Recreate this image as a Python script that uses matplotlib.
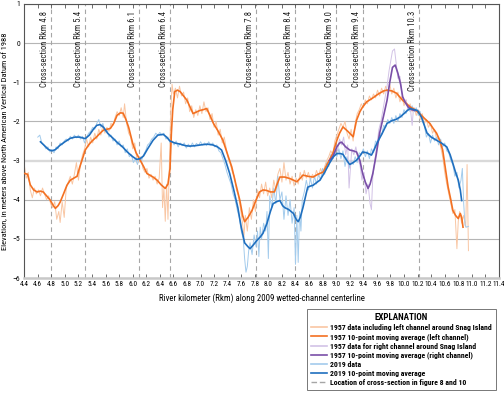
import matplotlib
matplotlib.use("Agg")
import matplotlib.pyplot as plt
from matplotlib import font_manager
from matplotlib.lines import Line2D

# ---------------- data ----------------
o57_avg_x = [4.41,4.45,4.49,4.54,4.59,4.64,4.68,4.73,4.78,4.83,4.86,4.90,4.93,4.98,5.03,5.08,5.13,5.18,5.22,5.26,5.30,5.35,5.40,5.47,5.52,5.57,5.62,5.67,5.72,5.77,5.82,5.86,5.90,5.94,6.00,6.05,6.11,6.16,6.21,6.26,6.30,6.36,6.42,6.48,6.52,6.55,6.57,6.59,6.62,6.66,6.70,6.75,6.80,6.85,6.89,6.94,6.99,7.04,7.09,7.14,7.19,7.26,7.33,7.40,7.46,7.52,7.58,7.62,7.65,7.70,7.76,7.82,7.87,7.92,7.97,8.03,8.09,8.13,8.17,8.24,8.32,8.37,8.42,8.47,8.51,8.58,8.66,8.73,8.81,8.88,8.95,9.01,9.05,9.10,9.17,9.25,9.30,9.35,9.39,9.45,9.54,9.62,9.70,9.75,9.82,9.89,9.94,9.98,10.04,10.09,10.16,10.23,10.30,10.38,10.43,10.48,10.53,10.57,10.61,10.65,10.69,10.72,10.76,10.80,10.83,10.85,10.87]
o57_avg_y = [-3.33,-3.35,-3.62,-3.75,-3.80,-3.78,-3.80,-3.90,-4.00,-4.15,-4.22,-4.15,-4.06,-3.85,-3.63,-3.50,-3.45,-3.40,-3.16,-2.95,-2.73,-2.60,-2.50,-2.39,-2.30,-2.22,-2.20,-2.18,-2.05,-1.84,-1.78,-1.79,-1.95,-2.15,-2.56,-2.80,-2.99,-3.15,-3.33,-3.38,-3.42,-3.50,-3.62,-3.71,-3.60,-3.20,-2.30,-1.70,-1.24,-1.20,-1.24,-1.35,-1.46,-1.65,-1.80,-1.76,-1.72,-1.70,-1.67,-1.85,-2.05,-2.25,-2.48,-2.85,-3.16,-3.60,-4.02,-4.40,-4.56,-4.45,-4.27,-4.00,-3.80,-3.75,-3.76,-3.80,-3.80,-3.60,-3.42,-3.42,-3.46,-3.50,-3.54,-3.45,-3.37,-3.40,-3.42,-3.35,-3.29,-3.05,-2.82,-2.48,-2.30,-2.14,-2.25,-2.39,-1.97,-1.75,-1.63,-1.50,-1.40,-1.30,-1.22,-1.20,-1.22,-1.28,-1.38,-1.46,-1.55,-1.63,-1.70,-1.80,-1.92,-2.05,-2.18,-2.30,-2.50,-2.73,-3.20,-3.67,-4.00,-4.27,-4.40,-4.48,-4.35,-4.45,-4.70]

o57_raw_x = [4.40,4.43,4.46,4.49,4.52,4.55,4.58,4.61,4.64,4.67,4.70,4.73,4.76,4.79,4.82,4.85,4.88,4.91,4.93,4.96,4.99,5.02,5.05,5.08,5.11,5.14,5.17,5.20,5.23,5.26,5.29,5.32,5.35,5.38,5.41,5.44,5.47,5.50,5.53,5.56,5.59,5.62,5.65,5.68,5.71,5.74,5.77,5.80,5.83,5.86,5.88,5.91,5.94,5.97,6.00,6.03,6.06,6.09,6.12,6.15,6.18,6.21,6.24,6.27,6.30,6.33,6.36,6.39,6.42,6.44,6.46,6.48,6.50,6.52,6.54,6.56,6.58,6.60,6.63,6.66,6.69,6.72,6.75,6.78,6.81,6.84,6.87,6.90,6.93,6.96,6.99,7.02,7.05,7.08,7.11,7.14,7.17,7.20,7.23,7.26,7.29,7.32,7.35,7.38,7.41,7.44,7.47,7.50,7.53,7.56,7.59,7.62,7.64,7.66,7.69,7.72,7.75,7.78,7.81,7.84,7.87,7.90,7.93,7.96,7.99,8.02,8.05,8.08,8.11,8.14,8.17,8.20,8.23,8.26,8.29,8.32,8.35,8.38,8.41,8.44,8.47,8.50,8.53,8.56,8.59,8.62,8.65,8.68,8.71,8.74,8.77,8.80,8.83,8.86,8.89,8.92,8.95,8.98,9.01,9.04,9.07,9.10,9.13,9.16,9.19,9.22,9.25,9.28,9.31,9.34,9.37,9.40,9.43,9.46,9.49,9.52,9.55,9.58,9.61,9.64,9.67,9.70,9.73,9.76,9.79,9.82,9.85,9.88,9.91,9.94,9.97,10.00,10.03,10.06,10.09,10.12,10.15,10.18,10.21,10.24,10.27,10.30,10.33,10.36,10.39,10.42,10.45,10.48,10.51,10.54,10.57,10.60,10.63,10.66,10.69,10.72,10.75,10.78,10.80,10.82,10.85,10.88,10.91,10.93,10.95]
o57_raw_y = [-3.10,-3.45,-3.30,-3.75,-3.95,-3.70,-3.85,-3.75,-3.90,-3.70,-3.85,-4.00,-3.90,-4.10,-4.20,-4.05,-4.50,-4.30,-4.58,-4.05,-4.45,-3.70,-3.55,-3.40,-3.60,-3.35,-3.05,-3.50,-3.10,-2.85,-2.70,-2.45,-2.65,-2.40,-2.55,-2.30,-2.45,-2.20,-2.35,-2.10,-2.30,-2.15,-2.25,-2.05,-2.10,-1.90,-1.75,-1.85,-1.65,-1.90,-1.55,-2.05,-2.30,-2.40,-2.70,-2.55,-2.95,-3.05,-2.90,-3.20,-3.30,-3.20,-3.45,-3.35,-3.50,-3.40,-3.60,-3.45,-2.55,-4.20,-3.70,-4.55,-3.60,-4.50,-3.10,-1.80,-1.05,-1.30,-1.15,-1.40,-1.10,-1.35,-1.25,-1.55,-1.40,-1.75,-1.60,-1.90,-1.70,-1.85,-1.60,-1.80,-1.50,-1.75,-1.65,-1.95,-1.80,-2.15,-2.00,-2.35,-2.20,-2.55,-2.40,-2.70,-2.95,-3.10,-3.30,-3.40,-3.75,-3.90,-4.25,-4.60,-4.95,-4.40,-4.80,-4.20,-4.50,-4.00,-4.30,-3.75,-3.95,-3.60,-3.85,-3.55,-3.90,-3.70,-3.95,-3.50,-3.75,-3.35,-3.20,-3.55,-3.05,-3.50,-3.30,-3.60,-3.40,-3.65,-3.45,-3.60,-3.30,-3.50,-3.25,-3.45,-3.30,-3.50,-3.35,-3.45,-3.25,-3.40,-3.20,-3.35,-3.15,-3.00,-2.90,-2.75,-2.85,-2.50,-2.35,-2.20,-2.05,-2.15,-2.00,-2.30,-2.45,-2.20,-2.50,-2.05,-1.80,-1.70,-1.55,-1.65,-1.45,-1.55,-1.35,-1.45,-1.30,-1.40,-1.20,-1.35,-1.15,-1.30,-1.10,-1.25,-1.05,-1.30,-1.15,-1.40,-1.25,-1.50,-1.35,-1.60,-1.45,-1.70,-1.55,-1.75,-1.65,-1.85,-1.70,-1.95,-1.80,-2.05,-1.95,-2.15,-2.05,-2.30,-2.20,-2.45,-2.40,-2.65,-2.90,-3.30,-3.60,-3.85,-4.10,-4.35,-4.25,-5.25,-4.55,-4.30,-4.60,-4.40,-4.70,-3.10,-5.30]

p57_avg_x = [8.90,8.95,9.01,9.05,9.08,9.14,9.20,9.25,9.30,9.35,9.39,9.43,9.47,9.50,9.54,9.59,9.64,9.70,9.75,9.79,9.83,9.87,9.91,9.95,9.98,10.02,10.06,10.11,10.16]
p57_avg_y = [-3.00,-2.90,-2.65,-2.55,-2.53,-2.65,-2.73,-2.75,-2.78,-3.00,-3.33,-3.55,-3.71,-3.60,-3.33,-2.85,-2.30,-1.85,-1.46,-1.00,-0.62,-0.56,-0.77,-1.05,-1.37,-1.52,-1.63,-1.70,-1.72]

p57_raw_x = [8.90,8.93,8.96,8.99,9.02,9.05,9.08,9.11,9.14,9.17,9.19,9.23,9.26,9.29,9.32,9.35,9.38,9.41,9.44,9.47,9.50,9.52,9.54,9.57,9.60,9.63,9.66,9.69,9.72,9.75,9.78,9.81,9.83,9.86,9.88,9.91,9.94,9.97,10.00,10.03,10.06,10.09,10.12,10.14,10.17]
p57_raw_y = [-3.05,-2.85,-2.95,-2.60,-2.75,-2.45,-2.60,-2.40,-2.85,-2.60,-3.70,-2.70,-2.85,-2.65,-2.95,-3.10,-3.50,-3.30,-3.85,-3.60,-4.10,-4.25,-3.40,-3.00,-2.60,-2.20,-2.00,-1.70,-1.40,-1.10,-0.70,-0.40,-0.20,-0.15,-0.45,-0.90,-0.85,-1.30,-1.50,-1.45,-1.70,-1.60,-2.10,-1.65,-1.75]

b19_avg_x = [4.64,4.70,4.76,4.81,4.86,4.92,5.00,5.08,5.15,5.22,5.30,5.36,5.42,5.47,5.52,5.57,5.63,5.71,5.78,5.85,5.92,6.00,6.06,6.11,6.16,6.22,6.30,6.37,6.45,6.50,6.55,6.62,6.70,6.78,6.84,6.92,7.00,7.10,7.18,7.25,7.31,7.37,7.43,7.49,7.55,7.60,7.65,7.70,7.73,7.78,7.83,7.88,7.92,7.98,8.03,8.07,8.12,8.17,8.21,8.24,8.30,8.37,8.41,8.44,8.47,8.51,8.55,8.58,8.62,8.66,8.72,8.76,8.83,8.90,8.96,9.01,9.06,9.10,9.15,9.20,9.25,9.30,9.35,9.39,9.45,9.52,9.56,9.60,9.68,9.75,9.82,9.88,9.94,10.00,10.05,10.09,10.15,10.20,10.26,10.31,10.34,10.40,10.48,10.55,10.63,10.68,10.72,10.76,10.80,10.83,10.85]
b19_avg_y = [-2.52,-2.62,-2.72,-2.75,-2.72,-2.62,-2.52,-2.43,-2.40,-2.40,-2.44,-2.35,-2.20,-2.10,-2.08,-2.15,-2.30,-2.43,-2.55,-2.65,-2.78,-2.90,-2.97,-2.95,-2.88,-2.70,-2.48,-2.35,-2.33,-2.40,-2.50,-2.55,-2.58,-2.62,-2.63,-2.62,-2.60,-2.58,-2.60,-2.65,-2.73,-3.00,-3.33,-3.75,-4.20,-4.70,-5.10,-5.20,-5.25,-5.15,-5.04,-4.95,-4.86,-4.60,-4.30,-4.10,-4.05,-4.02,-4.15,-4.20,-4.25,-4.35,-4.50,-4.56,-4.45,-4.20,-3.90,-3.68,-3.65,-3.63,-3.55,-3.50,-3.30,-3.07,-2.90,-2.82,-2.82,-2.84,-2.98,-3.10,-3.05,-2.99,-2.88,-2.78,-2.80,-2.86,-2.72,-2.56,-2.30,-2.05,-1.98,-1.95,-1.89,-1.80,-1.72,-1.67,-1.70,-1.72,-1.90,-2.15,-2.30,-2.40,-2.48,-2.55,-2.65,-2.85,-3.07,-3.30,-3.50,-3.75,-4.02]

b19_raw_x = [4.60,4.63,4.66,4.69,4.72,4.75,4.78,4.81,4.84,4.87,4.90,4.93,4.96,4.99,5.02,5.05,5.08,5.11,5.14,5.17,5.20,5.23,5.26,5.29,5.32,5.35,5.38,5.41,5.44,5.47,5.50,5.53,5.56,5.59,5.62,5.65,5.68,5.71,5.74,5.77,5.80,5.83,5.86,5.89,5.92,5.95,5.98,6.01,6.04,6.07,6.10,6.13,6.16,6.19,6.22,6.25,6.28,6.31,6.34,6.37,6.40,6.43,6.46,6.49,6.52,6.55,6.58,6.61,6.64,6.67,6.70,6.73,6.76,6.79,6.82,6.85,6.88,6.91,6.94,6.97,7.00,7.03,7.06,7.09,7.12,7.15,7.18,7.21,7.24,7.27,7.30,7.33,7.36,7.39,7.42,7.45,7.48,7.51,7.54,7.57,7.60,7.63,7.65,7.67,7.69,7.71,7.73,7.76,7.79,7.82,7.84,7.86,7.88,7.90,7.93,7.96,7.98,8.00,8.02,8.05,8.08,8.11,8.14,8.17,8.20,8.23,8.26,8.29,8.32,8.35,8.38,8.40,8.42,8.44,8.46,8.48,8.50,8.53,8.56,8.59,8.62,8.65,8.68,8.71,8.74,8.77,8.80,8.83,8.86,8.89,8.92,8.95,8.98,9.01,9.04,9.07,9.10,9.13,9.16,9.19,9.22,9.25,9.28,9.31,9.34,9.37,9.40,9.43,9.46,9.49,9.52,9.55,9.58,9.61,9.64,9.67,9.70,9.73,9.76,9.79,9.82,9.85,9.88,9.91,9.94,9.97,10.00,10.03,10.06,10.09,10.12,10.15,10.18,10.21,10.24,10.27,10.30,10.33,10.36,10.39,10.42,10.45,10.48,10.51,10.54,10.57,10.60,10.63,10.66,10.69,10.72,10.75,10.78,10.81,10.84,10.86,10.88,10.90,10.92,10.95]
b19_raw_y = [-2.40,-2.35,-2.55,-2.60,-2.70,-2.65,-2.78,-2.72,-2.80,-2.65,-2.70,-2.55,-2.60,-2.50,-2.45,-2.50,-2.38,-2.45,-2.35,-2.42,-2.35,-2.45,-2.38,-2.55,-2.40,-2.30,-2.25,-2.15,-2.20,-2.05,-1.95,-2.15,-2.05,-2.25,-2.20,-2.40,-2.35,-2.50,-2.45,-2.60,-2.50,-2.65,-2.60,-2.80,-2.70,-2.90,-2.85,-3.05,-2.95,-3.10,-2.90,-3.00,-2.85,-2.75,-2.60,-2.55,-2.45,-2.40,-2.30,-2.35,-2.28,-2.35,-2.30,-2.45,-2.40,-2.55,-2.50,-2.60,-2.50,-2.65,-2.55,-2.62,-2.55,-2.68,-2.58,-2.66,-2.55,-2.65,-2.56,-2.62,-2.52,-2.60,-2.55,-2.62,-2.52,-2.60,-2.55,-2.65,-2.60,-2.75,-2.80,-2.95,-3.10,-3.30,-3.45,-3.60,-3.85,-4.00,-4.25,-4.45,-4.80,-5.00,-5.50,-5.85,-5.70,-5.30,-5.10,-5.40,-4.90,-5.20,-4.80,-5.45,-4.70,-5.00,-4.60,-4.80,-4.30,-5.50,-3.90,-4.20,-3.70,-4.10,-3.40,-4.00,-3.80,-4.50,-3.90,-4.40,-4.00,-4.60,-4.20,-5.65,-4.40,-5.60,-4.30,-4.80,-4.00,-3.80,-3.50,-3.75,-3.45,-3.70,-3.40,-3.60,-3.35,-3.50,-3.20,-3.35,-3.05,-3.15,-2.85,-2.95,-2.75,-2.90,-2.70,-2.95,-2.75,-3.15,-2.90,-3.20,-3.00,-3.10,-2.90,-3.05,-2.80,-2.85,-2.70,-2.90,-2.75,-2.95,-2.70,-2.80,-2.50,-2.55,-2.30,-2.35,-2.10,-2.15,-1.95,-2.05,-1.90,-2.05,-1.85,-2.00,-1.80,-1.90,-1.70,-1.80,-1.62,-1.75,-1.60,-1.75,-1.65,-1.85,-1.75,-2.00,-2.10,-2.40,-2.30,-2.55,-2.35,-2.50,-2.40,-2.60,-2.45,-2.65,-2.55,-2.75,-2.80,-3.00,-3.10,-3.40,-3.30,-3.70,-3.50,-3.20,-4.10,-4.65,-4.70,-4.68]

xsec_pos = [4.8, 5.3, 6.1, 6.55, 7.82, 8.4, 9.0, 9.4, 10.22]
xsec_labels = ["Cross-section Rkm 4.8", "Cross-section Rkm 5.4", "Cross-section Rkm 6.1",
               "Cross-section Rkm 6.4", "Cross-section Rkm 7.8", "Cross-section Rkm 8.4",
               "Cross-section Rkm 9.0", "Cross-section Rkm 9.4", "Cross-section Rkm 10.3"]

x_ticks = [round(4.4 + 0.2 * i, 1) for i in range(36)]
y_ticks = [1, 0, -1, -2, -3, -4, -5, -6]

legend_labels = ["1957 data including left channel around Snag Island",
                 "1957 10-point moving average (left channel)",
                 "1957 data for right channel around Snag Island",
                 "1957 10-point moving average (right channel)",
                 "2019 data",
                 "2019 10-point moving average",
                 "Location of cross-section in figure 8 and 10"]

# ---------------- fonts ----------------
def pick(names):
    for n in names:
        try:
            font_manager.findfont(n, fallback_to_default=False)
            return n
        except Exception:
            pass
    return "DejaVu Sans"

fam = pick(["Liberation Sans Narrow", "Roboto Condensed", "Liberation Sans", "DejaVu Sans"])
plt.rcParams["font.family"] = fam

# ---------------- colors ----------------
c_or = "#f37021"
c_or_l = "#f9c6a3"
c_pu = "#7a4fa8"
c_pu_l = "#d2c2e6"
c_bl = "#1f6fbf"
c_bl_l = "#a3cbec"
c_dash = "#a6a6a6"

fig = plt.figure(figsize=(5.04, 3.95), dpi=100)
ax = fig.add_axes([0.048, 0.296, 0.942, 0.694])

ax.set_xlim(4.4, 11.4)
ax.set_ylim(-6, 1)

# grid
for yv in y_ticks:
    if yv == -3:
        ax.axhline(yv, color="#d9d9d9", lw=1.7, zorder=0)
    else:
        ax.axhline(yv, color="#b5b5b5", lw=0.8, zorder=0)

for xp, lab in zip(xsec_pos, xsec_labels):
    ax.axvline(xp, color=c_dash, lw=0.8, ls=(0, (4, 3)), zorder=1)
    ax.text(xp - 0.03, 0.82, lab, rotation=90, ha="right", va="top", fontsize=6.2, color="#222222", zorder=5)

ax.plot(o57_raw_x, o57_raw_y, color=c_or_l, lw=0.7, zorder=2)
ax.plot(b19_raw_x, b19_raw_y, color=c_bl_l, lw=0.7, zorder=2)
ax.plot(p57_raw_x, p57_raw_y, color=c_pu_l, lw=0.7, zorder=2)
ax.plot(o57_avg_x, o57_avg_y, color=c_or, lw=1.2, zorder=3)
ax.plot(p57_avg_x, p57_avg_y, color=c_pu, lw=1.2, zorder=3)
ax.plot(b19_avg_x, b19_avg_y, color=c_bl, lw=1.2, zorder=4)

ax.set_xticks(x_ticks)
ax.set_xticklabels([f"{v:.1f}" for v in x_ticks], fontsize=5.2)
ax.set_yticks(y_ticks)
ax.set_yticklabels([str(v).replace("-", "\u2212") for v in y_ticks], fontsize=5.5)
ax.tick_params(axis="x", direction="in", length=3, width=0.6, top=True, color="#555555", pad=2)
ax.tick_params(axis="y", length=0, pad=3)

for s in ["left", "right", "top"]:
    ax.spines[s].set_color("#555555")
    ax.spines[s].set_linewidth(0.8)
ax.spines["bottom"].set_color("#c8c8c8")
ax.spines["bottom"].set_linewidth(1.8)

ax.set_xlabel("River kilometer (Rkm) along 2009 wetted-channel centerline", fontsize=6.3, labelpad=4)
ax.set_ylabel("Elevation, in meters above North American Vertical Datum of 1988", fontsize=6.0, labelpad=3)

# legend
handles = [Line2D([], [], color=c_or_l, lw=1.2),
           Line2D([], [], color=c_or, lw=1.2),
           Line2D([], [], color=c_pu_l, lw=1.2),
           Line2D([], [], color=c_pu, lw=1.2),
           Line2D([], [], color=c_bl_l, lw=1.2),
           Line2D([], [], color=c_bl, lw=1.2),
           Line2D([], [], color=c_dash, lw=1.0, ls=(0, (4, 2)))]
leg = fig.legend(handles, legend_labels, loc="lower right", bbox_to_anchor=(0.992, 0.003),
                 title="EXPLANATION", fontsize=5.6, title_fontsize=6.5, frameon=True,
                 fancybox=False, edgecolor="#555555", handlelength=2.0, handletextpad=0.5,
                 labelspacing=0.25, borderpad=0.5, alignment="center")
leg.get_frame().set_linewidth(0.7)
leg.get_title().set_fontweight("bold")
for t in leg.get_texts():
    t.set_fontweight("bold")

fig.savefig("out.png", dpi=100)
